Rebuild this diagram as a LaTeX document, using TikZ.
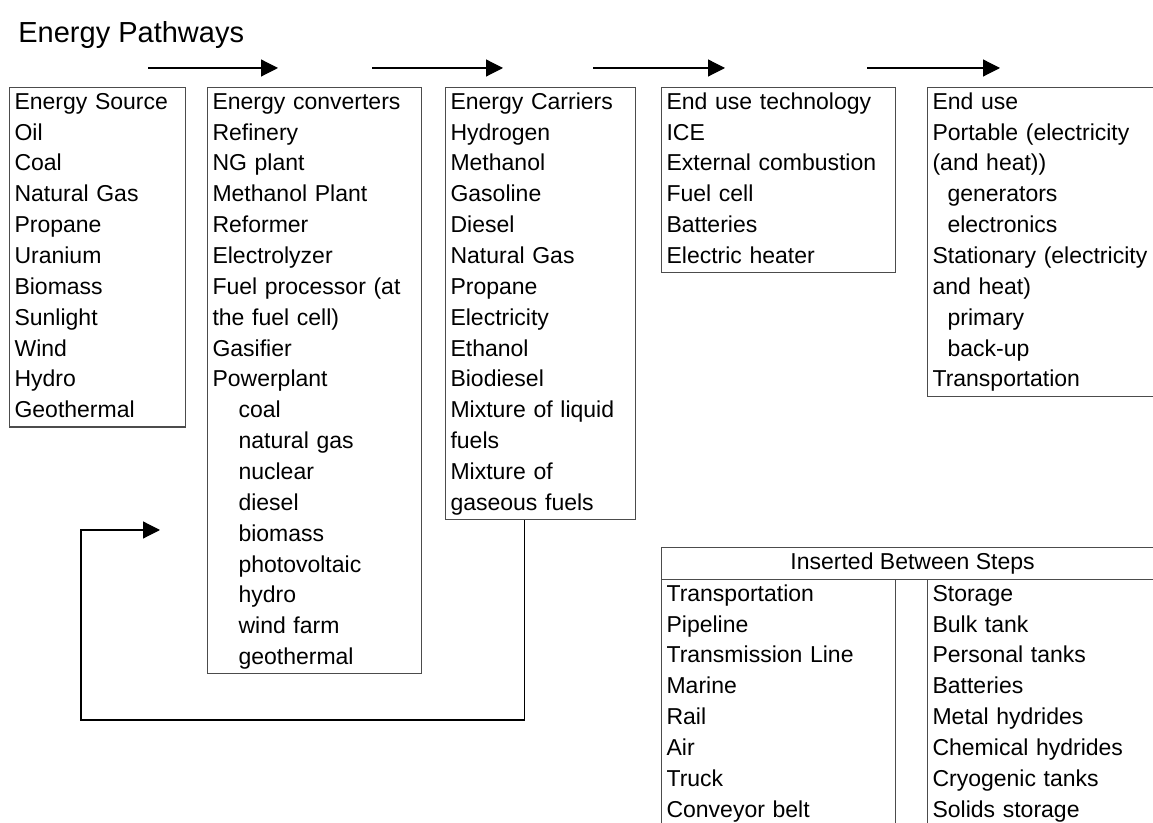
\documentclass[tikz,border=0pt]{standalone}
\usepackage{fontspec}
\setmainfont{Liberation Sans}
\usetikzlibrary{arrows.meta, positioning, calc}

\begin{document}
\begin{tikzpicture}[
  x=0.5pt, y=-0.5pt,
  stage/.style={draw=black!70, line width=0.55pt, anchor=north west, align=left, inner xsep=2.5pt, inner ysep=0pt, font=\fontsize{11.5}{15.43}\selectfont, execute at begin node=\strut, execute at end node=\strut},
  flow/.style={-{Triangle[length=8.5pt, width=8.5pt]}, line width=0.6pt}
]
\useasboundingbox (0,0) rectangle (1153,823);
\clip (0,0) rectangle (1153,823);

\node[anchor=west, inner sep=0pt, font=\fontsize{14.5}{17}\selectfont] (title) at (18,35) {Energy Pathways};

% the five steps
\node[stage, text width=83pt, minimum height=168.5pt] (source) at (9,87) {Energy Source\\Oil\\Coal\\Natural Gas\\Propane\\Uranium\\Biomass\\Sunlight\\Wind\\Hydro\\Geothermal};
\node[stage, text width=102pt, minimum height=292pt] (converters) at (207,87) {Energy converters\\Refinery\\NG plant\\Methanol Plant\\Reformer\\Electrolyzer\\Fuel processor (at\\the fuel cell)\\Gasifier\\Powerplant\\\hspace*{13pt}coal\\\hspace*{13pt}natural gas\\\hspace*{13pt}nuclear\\\hspace*{13pt}diesel\\\hspace*{13pt}biomass\\\hspace*{13pt}photovoltaic\\\hspace*{13pt}hydro\\\hspace*{13pt}wind farm\\\hspace*{13pt}geothermal};
\node[stage, text width=90pt, minimum height=215pt] (carriers) at (445,87) {Energy Carriers\\Hydrogen\\Methanol\\Gasoline\\Diesel\\Natural Gas\\Propane\\Electricity\\Ethanol\\Biodiesel\\Mixture of liquid\\fuels\\Mixture of\\gaseous fuels};
\node[stage, text width=112pt, minimum height=92.5pt] (technology) at (661,87) {End use technology\\ICE\\External combustion\\Fuel cell\\Batteries\\Electric heater};
\node[stage, text width=111.5pt, minimum height=153pt] (enduse) at (927,87) {End use\\Portable (electricity\\(and heat))\\\hspace*{7.5pt}generators\\\hspace*{7.5pt}electronics\\Stationary (electricity\\and heat)\\\hspace*{7.5pt}primary\\\hspace*{7.5pt}back-up\\Transportation};

\foreach \a/\b in {148/278, 372/503, 593/725, 867/1000}
  \draw[flow] (\a,68) -- (\b,68);

% loop back from carriers to converters
\coordinate (reentry) at (160,530);
\draw[flow] ($(carriers.south)+(-16,0)$) |- (81,720) |- (reentry);

% steps in between
\node[stage, align=center, inner xsep=0pt, minimum width=251pt, minimum height=16pt] (between) at (661,547) {Inserted Between Steps};
\node[stage, text width=112pt, minimum height=123pt] (transport) at (661,579) {Transportation\\Pipeline\\Transmission Line\\Marine\\Rail\\Air\\Truck\\Conveyor belt};
\node[stage, text width=113pt, minimum height=123pt] (storage) at (927,579) {Storage\\Bulk tank\\Personal tanks\\Batteries\\Metal hydrides\\Chemical hydrides\\Cryogenic tanks\\Solids storage};

\end{tikzpicture}
\end{document}
